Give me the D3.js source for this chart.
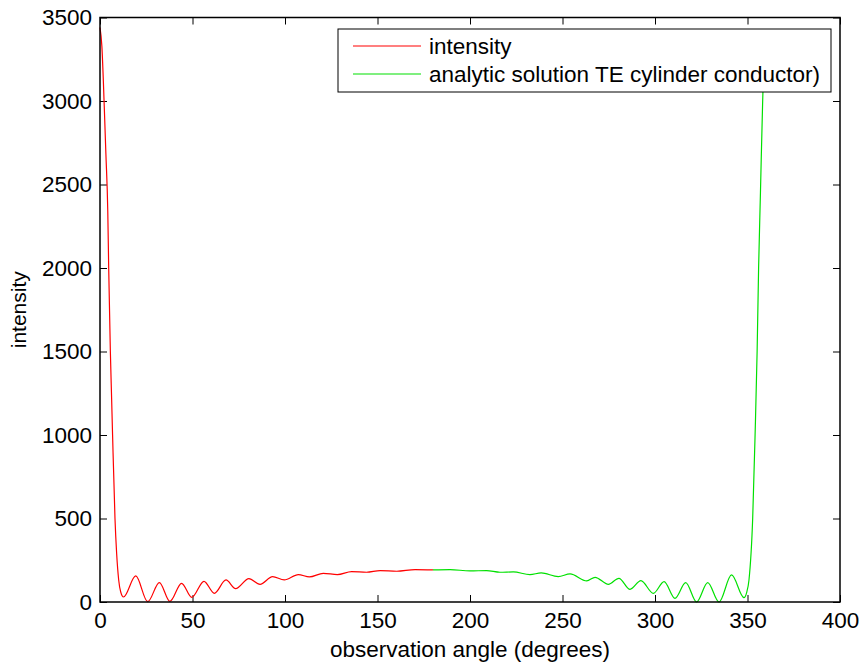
<!DOCTYPE html>
<html>
<head>
<meta charset="utf-8">
<script src="https://cdn.jsdelivr.net/npm/d3@7"></script>
<style>
  body { margin: 0; background: #fff; }
  svg text { font-family: "Liberation Sans", Arial, Helvetica, sans-serif; fill: #000; }
  .tick line { stroke: #000; stroke-width: 1; }
</style>
</head>
<body>
<svg id="chart" width="865" height="666"></svg>
<script>
// values: angle (degrees) and intensity
var redAngles = [0, 1, 2.2, 3.2, 4.2, 4.7, 5.6, 6.3, 6.8, 8.1, 9.0, 10.1, 11.2, 12.7,
  19.3, 25.8, 32.1, 37.8, 44.1, 49.6, 56.2, 61.8, 68.1, 73.3, 80.5, 86.5, 93.3, 99.6,
  107.2, 113.2, 120.7, 128.3, 136, 144.1, 151.4, 160.4, 170.3, 180];
var redValues = [3440, 3330, 3000, 2680, 2340, 2000, 1500, 1210, 1000, 500, 290, 132, 60, 30,
  156, 2, 116, 4, 112, 28, 124, 52, 132, 80, 140, 106, 152, 132,
  164, 150, 172, 164, 182, 178, 188, 184, 194, 192];

var greenAngles = [180, 189.2, 200, 209, 216.2, 223.4, 232.4, 238.5, 247.7, 254.1, 263.1,
  267.6, 274.8, 280.5, 286.5, 292.4, 299.1, 304.9, 310.8, 316.6, 322.5, 328.5, 334.6,
  341.4, 348.1, 349.5, 350.8, 352.8, 354.1, 355.2, 356.0, 357.0, 358.2, 359.2, 360];
var greenValues = [192, 194, 186, 188, 178, 180, 164, 174, 152, 168, 126,
  148, 106, 142, 76, 128, 52, 122, 22, 116, 0, 116, 0,
  162, 26, 55, 132, 500, 1000, 1500, 2000, 2450, 3000, 3300, 3420];

var xTicks = [0, 50, 100, 150, 200, 250, 300, 350, 400];
var yTicks = [0, 500, 1000, 1500, 2000, 2500, 3000, 3500];
var legendLabels = ["intensity", "analytic solution TE cylinder conductor)"];
var colors = ["#ff0000", "#00e000"];

var svg = d3.select("#chart");
var mLeft = 100, mRight = 840, mTop = 17.5, mBottom = 602;

var x = d3.scaleLinear().domain([0, 400]).range([mLeft, mRight]);
var y = d3.scaleLinear().domain([0, 3500]).range([mBottom, mTop]);

// axes with inward ticks on all four sides
svg.append("g").attr("transform", "translate(0," + mBottom + ")")
  .call(d3.axisBottom(x).tickValues(xTicks).tickSize(-7).tickPadding(10).tickFormat(d3.format("d")))
  .call(g => g.select(".domain").remove())
  .selectAll("text").style("font-size", "22.5px");
svg.append("g").attr("transform", "translate(0," + mTop + ")")
  .call(d3.axisTop(x).tickValues(xTicks).tickSize(-7).tickFormat(""))
  .call(g => g.select(".domain").remove());
svg.append("g").attr("transform", "translate(" + mLeft + ",0)")
  .call(d3.axisLeft(y).tickValues(yTicks).tickSize(-7).tickPadding(8).tickFormat(d3.format("d")))
  .call(g => g.select(".domain").remove())
  .selectAll("text").style("font-size", "22.5px");
svg.append("g").attr("transform", "translate(" + mRight + ",0)")
  .call(d3.axisRight(y).tickValues(yTicks).tickSize(-7).tickFormat(""))
  .call(g => g.select(".domain").remove());

var line = d3.line()
  .x(d => x(d[0]))
  .y(d => y(d[1]))
  .curve(d3.curveMonotoneX);

svg.append("path")
  .datum(d3.zip(redAngles, redValues))
  .attr("d", line)
  .attr("fill", "none").attr("stroke", colors[0]).attr("stroke-width", 1.2);
svg.append("path")
  .datum(d3.zip(greenAngles, greenValues))
  .attr("d", line)
  .attr("fill", "none").attr("stroke", colors[1]).attr("stroke-width", 1.2);

// box
svg.append("rect")
  .attr("x", mLeft).attr("y", mTop)
  .attr("width", mRight - mLeft).attr("height", mBottom - mTop)
  .attr("fill", "none").attr("stroke", "#000").attr("stroke-width", 1.5);

// axis labels
svg.append("text")
  .attr("x", (mLeft + mRight) / 2).attr("y", 657)
  .attr("text-anchor", "middle").style("font-size", "22.5px")
  .text("observation angle (degrees)");
svg.append("text")
  .attr("transform", "translate(26," + ((mTop + mBottom) / 2) + ") rotate(-90)")
  .attr("text-anchor", "middle").style("font-size", "21px")
  .text("intensity");

// legend
var legend = svg.append("g");
legend.append("rect")
  .attr("x", 338).attr("y", 29).attr("width", 493).attr("height", 63)
  .attr("fill", "#fff").attr("stroke", "#000").attr("stroke-width", 1);
legendLabels.forEach(function(lbl, i) {
  var ly = 46 + i * 28;
  legend.append("line")
    .attr("x1", 353).attr("x2", 421).attr("y1", ly).attr("y2", ly)
    .attr("stroke", colors[i]).attr("stroke-width", 1.2);
  legend.append("text")
    .attr("x", 429).attr("y", ly + 8)
    .style("font-size", "22.5px")
    .text(lbl);
});
</script>
</body>
</html>
